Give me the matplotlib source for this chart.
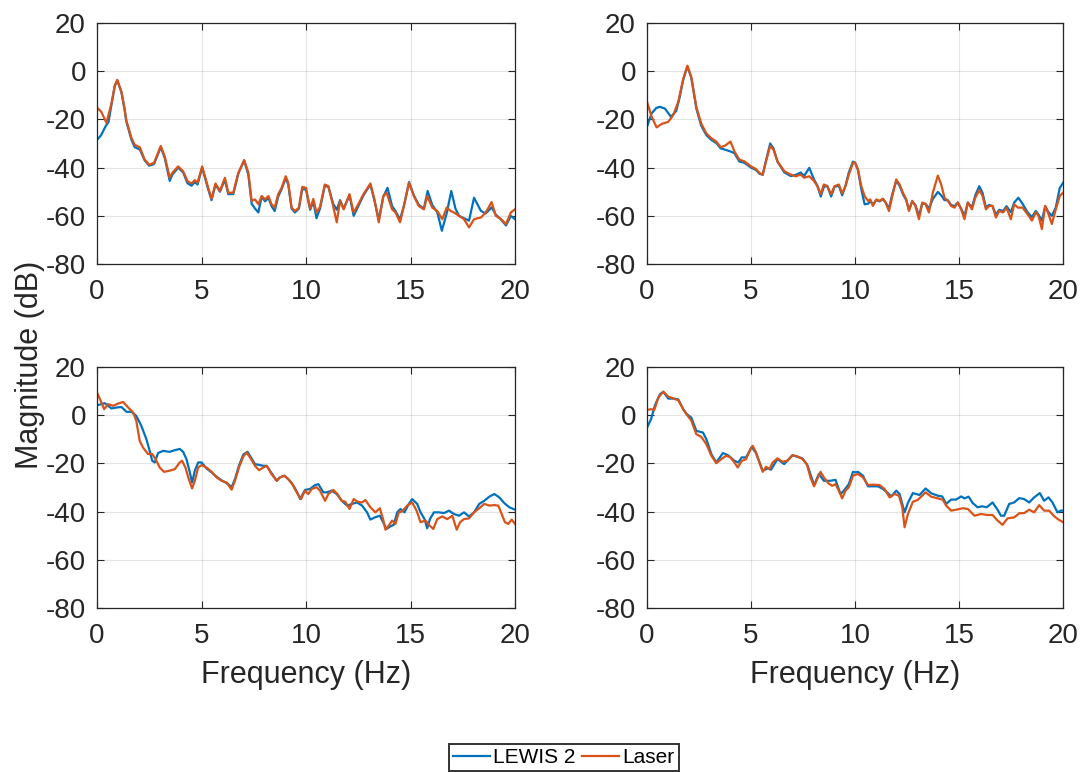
import matplotlib
matplotlib.use("Agg")
import matplotlib.pyplot as plt

plt.rcParams["font.family"] = ["Liberation Sans", "DejaVu Sans"]
plt.rcParams["axes.unicode_minus"] = False

# Colores por defecto de MATLAB
COLOR_LEWIS = "#0072BD"
COLOR_LASER = "#D95319"
TEXT_COLOR = "#262626"

# ---------------- Panel 1 (arriba izquierda) ----------------
f1_laser = [0, 0.2, 0.45, 0.69, 0.85, 0.97, 1.17, 1.33, 1.4, 1.65, 1.8, 2.05, 2.28, 2.5, 2.73,
            3.05, 3.24, 3.48, 3.6, 3.88, 4.12, 4.33, 4.52, 4.68, 4.81, 5.03, 5.32, 5.48, 5.67,
            5.88, 6.12, 6.28, 6.52, 6.76, 7.04, 7.24, 7.4, 7.56, 7.72, 7.88, 8.04, 8.2, 8.35,
            8.5, 8.67, 8.83, 9.03, 9.15, 9.31, 9.47, 9.66, 9.82, 10.0, 10.1, 10.2, 10.35, 10.5,
            10.67, 10.9, 11.07, 11.3, 11.47, 11.63, 11.8, 12.08, 12.28, 12.5, 12.75, 13.08,
            13.27, 13.48, 13.7, 13.85, 14.12, 14.28, 14.5, 14.68, 14.93, 15.16, 15.4, 15.64,
            15.8, 16.04, 16.28, 16.52, 16.73, 16.92, 17.08, 17.32, 17.56, 17.8, 18.04, 18.37,
            18.6, 18.88, 19.08, 19.33, 19.57, 19.8, 20.0]
m1_laser = [-15.1, -16.8, -21.4, -13.4, -5.9, -3.6, -8.6, -16.2, -20.3, -27.8, -30.5, -31.6,
            -36.7, -38.8, -38, -31, -35.3, -44.2, -42.2, -39.5, -41.5, -45.6, -46.6, -45.2,
            -46.3, -39.5, -48.4, -52.9, -46.6, -49.7, -44.2, -50.4, -50.4, -42.2, -36.9, -42,
            -53.8, -53.2, -55.2, -51.8, -53.2, -51.8, -55.2, -56.6, -51, -48.4, -43.6, -46.3,
            -56.6, -58, -56.6, -48, -48.4, -53, -57, -53, -58.6, -56.3, -47, -47.7, -56, -62.7,
            -53.8, -57.3, -51, -58.6, -55.2, -51, -46.6, -53, -62.7, -51.8, -50.4, -57.3, -58.6,
            -62.7, -56, -46.3, -51.8, -56, -57.3, -51.8, -56.6, -58, -61.4, -56.6, -58, -58.6,
            -60, -61.4, -64.8, -61.4, -60.7, -58.6, -54.3, -60, -61.4, -63.4, -58.6, -57.3]

f1_lewis = [0, 0.2, 0.4, 0.55, 0.69, 0.85, 0.97, 1.17, 1.33, 1.4, 1.65, 1.8, 2.05, 2.28, 2.5,
            2.73, 3.05, 3.24, 3.48, 3.6, 3.88, 4.12, 4.33, 4.52, 4.68, 4.81, 5.03, 5.32, 5.48,
            5.67, 5.88, 6.12, 6.28, 6.52, 6.76, 7.04, 7.24, 7.4, 7.56, 7.72, 7.88, 8.04, 8.2,
            8.35, 8.5, 8.67, 8.83, 9.03, 9.15, 9.31, 9.47, 9.66, 9.82, 10.0, 10.1, 10.2, 10.35,
            10.5, 10.67, 10.9, 11.07, 11.3, 11.47, 11.63, 11.8, 12.08, 12.28, 12.5, 12.75,
            13.08, 13.27, 13.48, 13.7, 13.9, 14.12, 14.28, 14.5, 14.68, 14.93, 15.16, 15.4,
            15.64, 15.82, 16.04, 16.28, 16.5, 16.73, 16.95, 17.15, 17.32, 17.56, 17.8, 18.04,
            18.37, 18.6, 18.88, 19.08, 19.33, 19.57, 19.8, 20.0]
m1_lewis = [-28.5, -26.5, -23, -21, -14, -6.2, -3.8, -8.8, -16.5, -20.8, -28.5, -31.5, -32.5,
            -37, -39.2, -38.5, -31.5, -36, -45.5, -43, -40, -42, -46.5, -47.5, -46, -47, -40,
            -49, -53.5, -47, -50, -45, -51, -51, -42.5, -37, -43, -55, -57, -58.6, -52, -54,
            -52.5, -56, -58, -52, -49, -44.3, -47, -57, -58.6, -57, -49, -49, -53.5, -57.5, -54,
            -61, -57, -47.5, -48, -55, -57.5, -53.5, -57, -51.5, -60, -56, -51.5, -47, -53.5,
            -61.5, -52, -48.4, -56, -58, -61.5, -56, -46, -51.5, -55.5, -57, -49.7, -55.5,
            -58.5, -66.2, -59, -49.7, -57, -60, -61, -62, -52.5, -58, -59, -56.5, -59.5, -61.5,
            -64, -60, -61.4]

# ---------------- Panel 2 (arriba derecha) ----------------
f2 = [0, 0.22, 0.46, 0.7, 1.02, 1.26, 1.5, 1.74, 1.94, 2.13, 2.37, 2.6, 2.85, 3.09, 3.33,
      3.54, 3.73, 4.01, 4.2, 4.44, 4.68, 5.0, 5.24, 5.4, 5.56, 5.72, 5.92, 6.08, 6.27, 6.6,
      6.91, 7.15, 7.39, 7.55, 7.8, 8.03, 8.19, 8.35, 8.5, 8.66, 8.85, 9.01, 9.22, 9.38, 9.54,
      9.7, 9.9, 10.0, 10.14, 10.3, 10.46, 10.62, 10.73, 10.86, 11.02, 11.18, 11.34, 11.47,
      11.63, 11.79, 11.98, 12.14, 12.3, 12.46, 12.59, 12.75, 12.9, 13.07, 13.23, 13.39, 13.55,
      13.74, 13.98, 14.14, 14.3, 14.46, 14.62, 14.78, 14.94, 15.1, 15.26, 15.42, 15.62, 15.78,
      15.97, 16.13, 16.29, 16.45, 16.61, 16.77, 16.93, 17.12, 17.28, 17.49, 17.65, 17.83,
      18.05, 18.29, 18.5, 18.69, 18.82, 18.98, 19.14, 19.3, 19.46, 19.65, 19.84, 20.0]
m2_laser = [-12.7, -18.9, -23.3, -21.9, -21, -18.2, -12.7, -3.2, 2.3, -2.5, -14.8, -21.6, -25.8,
            -27.8, -29.2, -31.5, -31, -29.2, -33.3, -36.7, -37.4, -39.5, -40.6, -42.2, -42.9,
            -37.4, -31, -32.6, -37.4, -41.5, -42.9, -43.6, -42.9, -44.2, -43.6, -45.6, -47.7,
            -51, -47, -47.7, -51, -47.7, -47, -50.7, -47.7, -42.9, -38.1, -37.8, -40.8, -47.7,
            -51.8, -53.8, -53.2, -55.9, -53.2, -53.8, -52.9, -54.5, -58, -51.8, -44.9, -47,
            -50.4, -53.2, -58, -53.8, -55.9, -61.4, -54.5, -55.2, -58.6, -50.4, -43.3, -47,
            -52.5, -53.8, -55.9, -56.6, -54.5, -57.3, -61.4, -54.5, -57.3, -52.5, -49.3, -51.8,
            -57.3, -55.9, -55.9, -60.7, -58, -58.6, -56.6, -61.4, -55.2, -56.6, -56.6, -59.3,
            -62, -58.6, -60, -65.5, -55.9, -59.3, -63.4, -57.3, -51.8, -50.4]

f2_lewis = [0, 0.22, 0.45, 0.62, 0.86, 1.15, 1.4, 1.55, 1.74, 1.94, 2.13, 2.37, 2.6, 2.85,
            3.09, 3.33, 3.54, 3.73, 4.01, 4.2, 4.44, 4.68, 5.0, 5.24, 5.4, 5.56, 5.72, 5.92,
            6.08, 6.27, 6.6, 6.91, 7.15, 7.39, 7.55, 7.8, 8.03, 8.19, 8.35, 8.5, 8.66, 8.85,
            9.01, 9.22, 9.38, 9.54, 9.7, 9.9, 10.0, 10.14, 10.3, 10.46, 10.62, 10.73, 10.86,
            11.02, 11.18, 11.34, 11.47, 11.63, 11.79, 11.98, 12.14, 12.3, 12.46, 12.59, 12.75,
            12.9, 13.07, 13.23, 13.39, 13.55, 13.74, 13.98, 14.14, 14.3, 14.46, 14.62, 14.78,
            14.94, 15.1, 15.26, 15.42, 15.62, 15.78, 15.97, 16.13, 16.29, 16.45, 16.61, 16.77,
            16.93, 17.12, 17.28, 17.49, 17.65, 17.85, 18.05, 18.29, 18.5, 18.69, 18.82, 18.98,
            19.14, 19.3, 19.46, 19.65, 19.84, 20.0]
m2_lewis = [-23, -17.5, -15.2, -14.8, -15.5, -18.9, -16.5, -11.5, -3.5, 2.0, -2.8, -15.5,
            -22.5, -26.5, -28.5, -29.8, -32, -32.5, -33.3, -34, -37.5, -38, -40, -41, -42.5,
            -43, -37, -30, -32, -37.5, -42, -43.5, -43, -42, -43.5, -40.1, -45, -47.5, -52,
            -48, -47.5, -52, -48, -47.5, -51.5, -47.5, -42, -37.5, -38, -41, -49, -55.2, -55,
            -54, -55.2, -53.5, -54, -53, -54.5, -57, -51, -45.5, -47.5, -51, -53.5, -57.5, -54,
            -55.5, -60, -55, -55, -57, -53, -50.1, -51.5, -53.5, -53.5, -55.5, -56, -54.5, -57,
            -60, -54.5, -56.5, -51.5, -47.7, -50.5, -56.5, -55.5, -56, -59.5, -57.5, -58, -56,
            -58.5, -54.5, -52.5, -55, -58.5, -60.5, -58, -59.5, -62, -56, -58.5, -60, -56.5,
            -48.5, -46.3]

# ---------------- Panel 3 (abajo izquierda) ----------------
f3_laser = [0, 0.18, 0.34, 0.53, 0.77, 1.0, 1.25, 1.49, 1.73, 1.88, 2.04, 2.2, 2.44, 2.64,
            2.8, 3.0, 3.21, 3.48, 3.72, 3.96, 4.07, 4.23, 4.39, 4.55, 4.68, 4.84, 5.0, 5.24,
            5.48, 5.72, 5.96, 6.2, 6.44, 6.6, 6.79, 7.0, 7.16, 7.32, 7.56, 7.75, 7.96, 8.12,
            8.35, 8.6, 8.75, 8.96, 9.15, 9.35, 9.55, 9.76, 9.95, 10.11, 10.27, 10.51, 10.67,
            10.91, 11.07, 11.31, 11.5, 11.71, 11.88, 12.08, 12.28, 12.47, 12.68, 12.84, 13.08,
            13.32, 13.53, 13.69, 13.8, 13.96, 14.12, 14.28, 14.44, 14.6, 14.84, 15.08, 15.29,
            15.48, 15.72, 15.88, 16.09, 16.28, 16.52, 16.76, 17.0, 17.21, 17.37, 17.56, 17.8,
            18.04, 18.29, 18.53, 18.77, 19.01, 19.2, 19.33, 19.52, 19.68, 19.84, 20.0]
m3_laser = [9.4, 5.9, 2.5, 4.6, 3.9, 4.8, 5.5, 3.2, 1.1, -2.3, -10.6, -13.4, -16.1, -16.1,
            -18.2, -21.7, -23.5, -23, -22.4, -19.6, -18.9, -21.7, -26.5, -30.4, -27.2, -21.7,
            -20.7, -21.7, -23.5, -25.8, -27.2, -27.9, -30.9, -27.2, -21.7, -17.1, -15.5, -17.5,
            -21, -22.8, -21.7, -21, -24.4, -27.2, -25.8, -25.1, -26.5, -28.6, -32, -34.8,
            -31.3, -32.7, -30.6, -29.9, -31.3, -35.5, -32.7, -31, -32.7, -35.5, -35.9, -38.9,
            -34.8, -35.9, -36.2, -35.2, -38.2, -40.3, -38.6, -43.2, -47.5, -45.8, -43.7, -45.1,
            -40.3, -39.9, -37.5, -36.2, -39.6, -44.4, -43.7, -45.5, -47.2, -43.1, -42, -43.1,
            -41.7, -47.5, -44.4, -43.1, -42.8, -40.3, -38.6, -36.8, -37.5, -37.3, -37.5, -40.3,
            -44.4, -45.1, -43.3, -45.1]

f3_lewis = [0, 0.37, 0.69, 0.93, 1.17, 1.41, 1.65, 1.88, 2.12, 2.36, 2.52, 2.64, 2.76, 2.92,
            3.16, 3.48, 3.72, 3.96, 4.12, 4.28, 4.44, 4.55, 4.68, 4.84, 5.0, 5.24, 5.48, 5.72,
            5.96, 6.28, 6.44, 6.6, 6.79, 7.0, 7.2, 7.56, 7.8, 7.96, 8.12, 8.35, 8.6, 8.75, 8.96,
            9.15, 9.35, 9.55, 9.72, 9.95, 10.19, 10.43, 10.59, 10.83, 10.99, 11.23, 11.47,
            11.71, 11.96, 12.2, 12.44, 12.68, 12.92, 13.08, 13.32, 13.53, 13.69, 13.85, 14.04,
            14.2, 14.36, 14.52, 14.71, 14.92, 15.08, 15.32, 15.48, 15.67, 15.8, 15.93, 16.12,
            16.36, 16.6, 16.84, 17.08, 17.32, 17.56, 17.8, 18.04, 18.29, 18.53, 18.77, 19.01,
            19.25, 19.49, 19.73, 20.0]
m3_lewis = [4.1, 5, 2.8, 3.2, 3.4, 1.4, 1.4, -0.3, -4.4, -9.9, -14.8, -18.9, -19.6, -15.7,
            -14.8, -15.2, -14.5, -14, -15.2, -18.2, -23.7, -27.9, -23, -19.6, -19.6, -22.1,
            -23.7, -25.5, -27, -28.6, -29.9, -26.5, -21, -16.3, -15.2, -20.3, -20.7, -21, -21,
            -24, -27.2, -25.8, -25.1, -26.5, -28.6, -31.5, -34.8, -31, -30.6, -29, -28.6, -32,
            -32, -31.3, -32.7, -35.5, -37.5, -36.8, -36.2, -37.5, -40.3, -43.3, -42.3, -41.7,
            -44.4, -47.2, -46.1, -45.5, -40.3, -38.9, -40.3, -36.8, -34.8, -36.8, -40.3, -43.1,
            -46.9, -43.1, -40.3, -40.3, -40.6, -39.6, -41, -41.7, -40.3, -42, -40.3, -36.8,
            -35.5, -33.8, -32.7, -34.1, -36.5, -38.2, -39.2]

# ---------------- Panel 4 (abajo derecha) ----------------
f4_laser = [0, 0.19, 0.35, 0.54, 0.78, 1.02, 1.26, 1.5, 1.74, 1.9, 2.13, 2.37, 2.61, 2.85,
            3.09, 3.33, 3.57, 3.81, 4.01, 4.2, 4.36, 4.55, 4.76, 4.97, 5.08, 5.24, 5.4, 5.56,
            5.72, 5.88, 6.04, 6.27, 6.51, 6.75, 6.99, 7.23, 7.47, 7.68, 7.87, 8.03, 8.18, 8.34,
            8.5, 8.71, 8.9, 9.06, 9.22, 9.38, 9.54, 9.7, 9.9, 10.0, 10.14, 10.38, 10.62, 10.86,
            11.18, 11.42, 11.66, 11.9, 12.11, 12.27, 12.38, 12.54, 12.78, 13.02, 13.39, 13.66,
            13.98, 14.22, 14.38, 14.62, 14.86, 15.18, 15.42, 15.74, 16.05, 16.37, 16.61, 16.85,
            17.09, 17.33, 17.65, 17.89, 18.13, 18.37, 18.61, 18.85, 19.09, 19.33, 19.57, 19.78,
            20.0]
m4_laser = [2.2, 2.5, 2.2, 7.3, 9.8, 7.7, 7.0, 6.2, 2.5, 0.4, -2.3, -7.9, -9, -12, -16.8,
            -19.9, -18.2, -16.8, -17.5, -19.6, -21.7, -19, -18.2, -14.1, -12.7, -15.5, -19.6,
            -23.5, -21.4, -22.4, -19.6, -17.9, -19.3, -18.9, -16.6, -17.1, -18.2, -20.3, -26.2,
            -29.5, -26.5, -23.5, -25.8, -28.2, -29.3, -28.6, -31.3, -34.5, -31.3, -29.9, -25.1,
            -24.8, -24.4, -25.8, -29, -28.8, -29, -30.6, -34.1, -32.7, -33.4, -38.2, -46.5, -41,
            -35.9, -35.1, -32, -33.8, -34.5, -35.1, -37.5, -39.6, -39.2, -38.6, -38.9, -41.7,
            -41, -41.4, -41.4, -43.7, -45.5, -42.8, -42.4, -40.7, -40.6, -39.2, -40.3, -37.3,
            -39.6, -39.6, -41.9, -43.3, -44.4]

f4_lewis = [0, 0.19, 0.38, 0.62, 0.78, 1.02, 1.26, 1.5, 1.74, 1.9, 2.13, 2.37, 2.69, 2.85,
            3.09, 3.33, 3.65, 3.89, 4.2, 4.39, 4.55, 4.76, 5.03, 5.24, 5.56, 5.8, 5.96, 6.27,
            6.59, 6.99, 7.47, 7.71, 8.03, 8.26, 8.5, 8.82, 9.06, 9.3, 9.46, 9.7, 9.9, 10.0,
            10.14, 10.38, 10.62, 10.86, 11.1, 11.34, 11.58, 11.74, 11.98, 12.14, 12.38, 12.54,
            12.78, 12.94, 13.1, 13.39, 13.66, 13.98, 14.19, 14.38, 14.62, 14.86, 15.1, 15.26,
            15.46, 15.65, 15.89, 16.1, 16.33, 16.61, 16.85, 17.01, 17.17, 17.41, 17.65, 17.89,
            18.13, 18.37, 18.61, 18.88, 19.09, 19.3, 19.49, 19.73, 19.89, 20.0]
m4_lewis = [-5.1, -1.7, 4.1, 8.7, 9.7, 6.9, 6.9, 6.6, 2.5, 0.5, -1, -6.5, -7.2, -9.9, -16.1,
            -19.6, -15.7, -16.6, -18.9, -19.6, -17.5, -17.5, -13.2, -15.7, -23, -22.1, -22.6,
            -18.2, -20.3, -16.6, -17.9, -20.7, -29, -24.4, -27.2, -27.2, -26.8, -32.7, -31.3,
            -28.6, -23.5, -23.7, -23.5, -25.1, -29.5, -29.5, -29.5, -30.6, -32.3, -33.7, -31.3,
            -32.7, -40.3, -36.4, -32.3, -32.7, -33.1, -30.4, -32.4, -33.4, -33.7, -36.8, -35,
            -35, -33.7, -34.5, -33.8, -36.4, -38.2, -37.8, -38.2, -36.2, -39.2, -41.7, -41.7,
            -36.8, -36.2, -34.4, -34.8, -36.2, -34.1, -32.3, -35.5, -34.1, -36.2, -40.3, -39.6,
            -39.6]

paneles = [
    (f1_lewis, m1_lewis, f1_laser, m1_laser),
    (f2_lewis, m2_lewis, f2, m2_laser),
    (f3_lewis, m3_lewis, f3_laser, m3_laser),
    (f4_lewis, m4_lewis, f4_laser, m4_laser),
]

# Posiciones de los ejes en fracción de la figura
posiciones = [
    [0.0895, 0.658, 0.3856, 0.3122],
    [0.5969, 0.658, 0.3838, 0.3122],
    [0.0895, 0.2124, 0.3856, 0.3122],
    [0.5969, 0.2124, 0.3838, 0.3122],
]

fig = plt.figure(figsize=(10.84, 7.72), dpi=100)

for i, (fl, ml, fs, ms) in enumerate(paneles):

    ax = fig.add_axes(posiciones[i])

    linea_lewis, = ax.plot(fl, ml, color=COLOR_LEWIS, linewidth=1.6, label="LEWIS 2")
    linea_laser, = ax.plot(fs, ms, color=COLOR_LASER, linewidth=1.6, label="Laser")

    ax.set_xlim(0, 20)
    ax.set_ylim(-80, 20)
    ax.set_xticks([0, 5, 10, 15, 20])
    ax.set_yticks([-80, -60, -40, -20, 0, 20])

    # Estilo tipo MATLAB: caja, marcas hacia dentro, rejilla suave
    ax.grid(True, color="#262626", alpha=0.12, linewidth=0.8)
    ax.set_axisbelow(True)
    ax.tick_params(direction="in", top=True, right=True, length=5,
                   labelsize=20, colors=TEXT_COLOR)
    ax.tick_params(axis="x", pad=11)
    ax.tick_params(axis="y", pad=8)
    for spine in ax.spines.values():
        spine.set_color(TEXT_COLOR)
        spine.set_linewidth(0.9)

    if i >= 2:
        ax.set_xlabel("Frequency (Hz)", fontsize=22, color=TEXT_COLOR, labelpad=8)

# Etiqueta común del eje y
fig.text(0.028, 0.527, "Magnitude (dB)", rotation=90, fontsize=22,
         color=TEXT_COLOR, ha="center", va="center")

# Leyenda común
leg = fig.legend(handles=[linea_lewis, linea_laser], loc="center",
                 bbox_to_anchor=(0.520, 0.019), ncol=2, fontsize=15,
                 frameon=True, fancybox=False, edgecolor="black",
                 handlelength=1.8, handletextpad=0.15, columnspacing=0.3,
                 borderpad=0.2, borderaxespad=0)
leg.get_frame().set_linewidth(1.4)
for t in leg.get_texts():
    t.set_color("black")

plt.savefig("out.png", dpi=100)
plt.close()
